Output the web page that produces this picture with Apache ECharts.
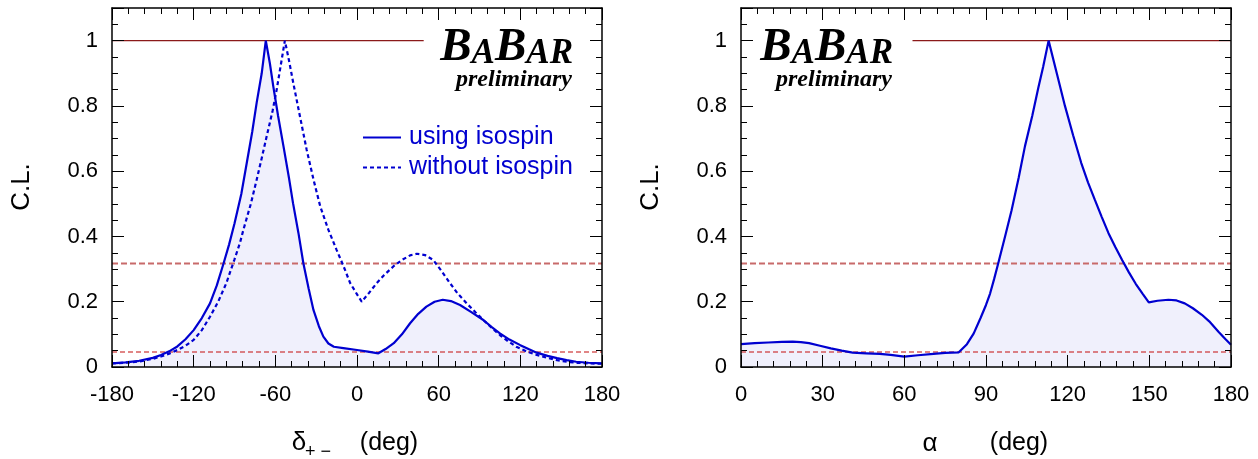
<!DOCTYPE html>
<html><head><meta charset="utf-8">
<script src="https://cdn.jsdelivr.net/npm/echarts@6/dist/echarts.min.js"></script>
<style>html,body{margin:0;padding:0;background:#fff}#c{width:1258px;height:459px}</style>
</head><body><div id="c"></div>
<script>
// ---------- data ----------
const deltaTicks = [-180, -120, -60, 0, 60, 120, 180];
const alphaTicks = [0, 30, 60, 90, 120, 150, 180];
const clTicks = [0, 0.2, 0.4, 0.6, 0.8, 1];
const sigmaLevels = [0.317, 0.046];
const deltaUnitLine = [[-180, 1], [49, 1]];
const alphaUnitLine = [[63, 1], [180, 1]];

const deltaUsingIsospin = [
  [-180,0.011],[-170,0.014],[-160,0.019],[-150,0.028],[-144,0.037],[-138,0.048],[-132,0.063],
  [-126,0.085],[-120,0.113],[-114,0.150],[-108,0.195],[-103,0.250],[-98,0.318],[-94,0.375],
  [-90,0.440],[-85,0.530],[-81,0.625],[-77,0.720],[-73.7,0.810],[-70,0.900],[-67,1.000],
  [-64,0.930],[-61.5,0.860],[-58,0.770],[-54,0.676],[-50,0.580],[-47,0.502],[-43,0.410],
  [-39.4,0.318],[-35.5,0.240],[-32,0.175],[-28,0.125],[-24.7,0.093],[-21,0.072],[-17,0.062],
  [-10,0.058],[0,0.052],[8,0.047],[15.7,0.042],[21,0.055],[27,0.073],[33,0.100],[39,0.134],
  [45,0.163],[51,0.185],[57,0.200],[63,0.206],[69,0.202],[75.7,0.190],[84,0.168],[92.8,0.144],
  [99,0.122],[105,0.103],[112,0.084],[120,0.067],[126,0.055],[132,0.044],[140,0.034],
  [147,0.027],[154,0.021],[161,0.016],[170,0.013],[180,0.011]
];
const deltaWithoutIsospin = [
  [-180,0.011],[-170,0.013],[-160,0.017],[-150,0.025],[-144,0.032],[-138,0.041],[-132,0.052],
  [-126,0.065],[-120,0.083],[-114,0.113],[-108,0.154],[-102,0.200],[-96,0.257],[-90,0.330],
  [-86,0.380],[-83.5,0.420],[-78,0.500],[-73.7,0.574],[-70,0.640],[-66.4,0.706],[-62,0.785],
  [-59,0.850],[-56,0.925],[-53,1.000],[-50,0.940],[-46.8,0.870],[-42,0.770],[-37,0.666],
  [-32,0.575],[-27,0.492],[-21,0.420],[-15,0.359],[-10,0.310],[-5,0.257],[1,0.216],[3.5,0.200],
  [9,0.228],[14.5,0.257],[20,0.282],[26.7,0.308],[33,0.328],[39,0.342],[44,0.347],[50,0.343],
  [56,0.328],[62,0.295],[68.3,0.257],[74,0.225],[80.6,0.195],[87,0.168],[92.8,0.144],[99,0.120],
  [105,0.098],[111,0.079],[117,0.062],[125,0.047],[132,0.037],[140,0.028],[147,0.021],
  [154,0.016],[161,0.013],[170,0.011],[180,0.010]
];
const alphaCL = [
  [0,0.070],[5,0.073],[10,0.075],[15,0.077],[19,0.078],[22,0.076],[25,0.073],[29,0.065],
  [33,0.057],[37,0.050],[41,0.044],[46,0.042],[51,0.040],[55,0.037],[60,0.032],[65,0.036],
  [70.7,0.040],[75,0.043],[80,0.045],[83,0.070],[85.5,0.103],[88,0.150],[90,0.190],[91.5,0.225],
  [93,0.270],[94.5,0.318],[97,0.400],[99.4,0.480],[102,0.580],[104.3,0.676],[107,0.770],
  [109.2,0.855],[111,0.920],[113,1.000],[116,0.900],[119,0.800],[122,0.710],[125,0.625],
  [127.5,0.565],[130,0.512],[132.5,0.460],[135,0.410],[137.5,0.368],[140,0.328],[142.5,0.290],
  [145,0.255],[147.5,0.225],[149.8,0.198],[153,0.203],[157,0.206],[160,0.204],[163,0.195],
  [166,0.180],[169.3,0.160],[172,0.140],[175.4,0.108],[178,0.085],[180,0.068]
];
const legendNames = ['using isospin', 'without isospin'];

// ---------- styles ----------
const FONT = 'Liberation Sans';
const SERIF = 'Liberation Serif';
const BLUE = '#0000d0';
const FILL = '#f0f0fc';
const DARKRED = '#8b1a1a';
const MINOR_DIV = 5;

function xAxes(gridIndex, ticks) {
  const min = ticks[0], max = ticks[ticks.length - 1], interval = ticks[1] - ticks[0];
  const common = { type: 'value', gridIndex, min, max, z: 5, splitLine: { show: false } };
  const major = pos => Object.assign({}, common, {
    position: pos, interval,
    axisLine: { show: true, onZero: false, lineStyle: { color: '#000', width: 1.5 } },
    axisTick: { show: true, inside: true, length: 12, lineStyle: { color: '#000', width: 1 } },
    axisLabel: pos === 'bottom' ? { show: true, margin: 17, fontSize: 22, fontFamily: FONT, color: '#000' } : { show: false }
  });
  const minor = pos => Object.assign({}, common, {
    position: pos, interval: interval / MINOR_DIV,
    axisLine: { show: false, onZero: false },
    axisTick: { show: true, inside: true, length: 6, lineStyle: { color: '#000', width: 1 } },
    axisLabel: { show: false }
  });
  return [major('bottom'), minor('bottom'), major('top'), minor('top')];
}
function yAxes(gridIndex) {
  const min = clTicks[0], max = 1.1, interval = clTicks[1] - clTicks[0];
  const common = { type: 'value', gridIndex, min, max, z: 5, splitLine: { show: false } };
  const major = pos => Object.assign({}, common, {
    position: pos, interval,
    axisLine: { show: true, onZero: false, lineStyle: { color: '#000', width: 1.5 } },
    axisTick: { show: true, inside: true, length: 12, lineStyle: { color: '#000', width: 1 } },
    axisLabel: pos === 'left' ? { show: true, margin: 14, fontSize: 22, fontFamily: FONT, color: '#000',
      formatter: v => (v > 1.01 ? '' : String(+v.toFixed(1))) } : { show: false }
  });
  const minor = pos => Object.assign({}, common, {
    position: pos, interval: 0.05,
    axisLine: { show: false, onZero: false },
    axisTick: { show: true, inside: true, length: 6, lineStyle: { color: '#000', width: 1 } },
    axisLabel: { show: false }
  });
  return [major('left'), minor('left'), major('right'), minor('right')];
}
function hline(name, xi, yi, data, color, width, type) {
  return { name, type: 'line', xAxisIndex: xi, yAxisIndex: yi, data, symbol: 'none', silent: true,
    lineStyle: { color, width, type }, z: 2 };
}
function sigmaLines(xi, yi, xmin, xmax) {
  return [
    hline('s1', xi, yi, [[xmin, sigmaLevels[0]], [xmax, sigmaLevels[0]]], '#c86a6a', 2, [6, 3]),
    hline('s2', xi, yi, [[xmin, sigmaLevels[1]], [xmax, sigmaLevels[1]]], '#c40c0c', 1.2, [5, 3])
  ];
}

const chart = echarts.init(document.getElementById('c'), null, { renderer: 'canvas' });

function logo(rightX) {
  return [
    { type: 'text', x: rightX, y: 24, z: 10,
      style: { text: '{b|B}{s|A}{b|B}{s|AR}', align: 'right', textAlign: 'right', verticalAlign: 'top', textVerticalAlign: 'top',
        fill: '#000',
        rich: {
          b: { fontSize: 47, fontFamily: SERIF, fontWeight: 'bold', fontStyle: 'italic', lineHeight: 47, verticalAlign: 'bottom', fill: '#000', color: '#000' },
          s: { fontSize: 35, fontFamily: SERIF, fontWeight: 'bold', fontStyle: 'italic', lineHeight: 39, verticalAlign: 'bottom', fill: '#000', color: '#000' }
        } } },
    { type: 'text', x: rightX - 1, y: 80, z: 10,
      style: { text: 'preliminary', align: 'right', textAlign: 'right', verticalAlign: 'middle', textVerticalAlign: 'middle',
        font: 'italic bold 24px "Liberation Serif"', fill: '#000' } }
  ];
}
function txt(x, y, text, size, extra) {
  return Object.assign({ type: 'text', x, y, z: 10,
    style: { text, align: 'center', textAlign: 'center', verticalAlign: 'middle', textVerticalAlign: 'middle',
      font: size + 'px "Liberation Sans"', fill: '#000' } }, extra || {});
}

const option = {
  animation: false,
  backgroundColor: '#fff',
  grid: [
    { left: 112, top: 8, width: 490, height: 359 },
    { left: 741, top: 8, width: 490, height: 359 }
  ],
  xAxis: [].concat(xAxes(0, deltaTicks), xAxes(1, alphaTicks)),
  yAxis: [].concat(yAxes(0), yAxes(1)),
  legend: {
    data: legendNames, orient: 'vertical', left: 357, top: 120, itemWidth: 38, itemHeight: 14, itemGap: 5,
    selectedMode: false,
    itemStyle: { opacity: 0 },
    textStyle: { color: BLUE, fontSize: 25, fontFamily: FONT, padding: [0, 0, 0, 3] }
  },
  graphic: [].concat(
    logo(573), logo(893),
    [
      txt(22, 187, 'C.L.', 26, { rotation: Math.PI / 2 }),
      txt(651, 187, 'C.L.', 26, { rotation: Math.PI / 2 }),
      txt(299, 443, 'δ', 26),
      txt(318, 452, '+ −', 18),
      txt(389, 443, '(deg)', 25),
      txt(930, 444, 'α', 26),
      txt(1019, 443, '(deg)', 25)
    ]
  ),
  series: [
    { name: 'fillL', type: 'line', xAxisIndex: 0, yAxisIndex: 0, data: deltaUsingIsospin, symbol: 'none', silent: true,
      lineStyle: { width: 0, opacity: 0 }, areaStyle: { color: FILL, opacity: 1 }, z: 1 },
    { name: 'fillR', type: 'line', xAxisIndex: 4, yAxisIndex: 4, data: alphaCL, symbol: 'none', silent: true,
      lineStyle: { width: 0, opacity: 0 }, areaStyle: { color: FILL, opacity: 1 }, z: 1 },
    ...sigmaLines(0, 0, deltaTicks[0], deltaTicks[deltaTicks.length - 1]),
    ...sigmaLines(4, 4, alphaTicks[0], alphaTicks[alphaTicks.length - 1]),
    hline('u1', 0, 0, deltaUnitLine, DARKRED, 1.2, 'solid'),
    hline('u2', 4, 4, alphaUnitLine, DARKRED, 1.2, 'solid'),
    { name: legendNames[1], type: 'line', xAxisIndex: 0, yAxisIndex: 0, data: deltaWithoutIsospin, symbol: 'none',
      lineStyle: { color: BLUE, width: 2.2, type: [4, 3] }, itemStyle: { color: BLUE }, z: 3 },
    { name: legendNames[0], type: 'line', xAxisIndex: 0, yAxisIndex: 0, data: deltaUsingIsospin, symbol: 'none',
      lineStyle: { color: BLUE, width: 2.2 }, itemStyle: { color: BLUE }, z: 4 },
    { name: 'alpha', type: 'line', xAxisIndex: 4, yAxisIndex: 4, data: alphaCL, symbol: 'none',
      lineStyle: { color: BLUE, width: 2.2 }, itemStyle: { color: BLUE }, z: 4 }
  ]
};
chart.setOption(option);
</script>
</body></html>
